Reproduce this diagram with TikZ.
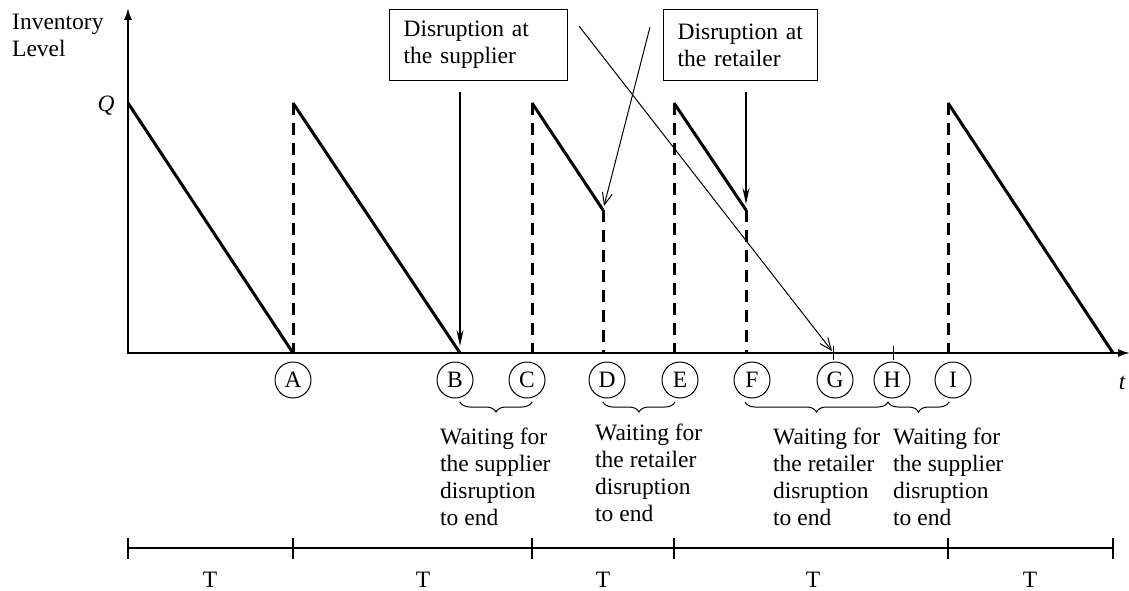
\documentclass[tikz,border=0pt]{standalone}
\usepackage{fontspec}
\setmainfont{Liberation Serif}
\usetikzlibrary{arrows.meta,decorations.pathreplacing}
\begin{document}
\begin{tikzpicture}[x=1pt,y=-1pt,
  every node/.style={font=\fontsize{23.5}{27}\selectfont},
  saw/.style={line width=3pt},
  drop/.style={line width=3pt, dash pattern=on 12pt off 8pt},
  axis/.style={line width=1.8pt},
  lbl/.style={draw, circle, line width=1pt, minimum size=36pt, inner sep=0pt},
  disbox/.style={draw, line width=1.2pt, align=left, inner xsep=14pt, minimum height=71pt, anchor=north west},
  note/.style={align=left, anchor=north west, inner sep=0pt},
  thickarrow/.style={line width=1.6pt, -{Stealth[length=16pt,width=7pt]}},
  thinarrow/.style={line width=1pt, -{Straight Barb[length=12pt,width=10pt]}},
  brc/.style={decorate, decoration={brace, mirror, amplitude=10pt}, line width=1pt},
  tl/.style={line width=1.2pt},
  tick/.style={line width=1pt}
]
\useasboundingbox (0,0) rectangle (1129,591);

% axes
\coordinate (O) at (128,353);
\coordinate (ytop) at (128,8);
\coordinate (xend) at (1130,353);
\draw[axis, {Latex[length=12pt,width=8pt]}-{Latex[length=12pt,width=8pt]}] (ytop) -- (O) -- (xend);
\node[note] (inv) at (12,14) {Inventory\\Level};
\node (q) at (106,106) {\itshape Q};
\node (t) at (1122,383) {\itshape t};

% key points
\coordinate (q0) at (128,103);
\coordinate (A) at (293,353);  \coordinate (Aq) at (293,103);
\coordinate (B) at (460,353);
\coordinate (C) at (532,353);  \coordinate (Cq) at (532,103);
\coordinate (D) at (603,353);  \coordinate (Dm) at (603,210);
\coordinate (E) at (674,353);  \coordinate (Eq) at (674,103);
\coordinate (F) at (746,353);  \coordinate (Fm) at (746,210);
\coordinate (G) at (833,353);
\coordinate (H) at (893,353);
\coordinate (I) at (948,353);  \coordinate (Iq) at (948,103);
\coordinate (Z) at (1113,353);

% inventory curve
\draw[saw] (q0) -- (A);
\draw[drop] (Aq) -- (A);
\draw[saw] (Aq) -- (B);
\draw[drop] (Cq) -- (C);
\draw[saw] (Cq) -- (Dm);
\draw[drop] (Dm) -- (D);
\draw[drop] (Eq) -- (E);
\draw[saw] (Eq) -- (Fm);
\draw[drop] (Fm) -- (F);
\draw[drop] (Iq) -- (I);
\draw[saw] (Iq) -- (Z);

% ticks at G and H
\draw[tick] ([yshift=7pt]G) -- ([yshift=-7pt]G);
\draw[tick] ([yshift=7pt]H) -- ([yshift=-7pt]H);

% circled labels
\node[lbl] (cA) at (293,380) {A};
\node[lbl] (cB) at (455,380) {B};
\node[lbl] (cC) at (527,380) {C};
\node[lbl] (cD) at (607,380) {D};
\node[lbl] (cE) at (680,380) {E};
\node[lbl] (cF) at (752,380) {F};
\node[lbl] (cG) at (835,380) {G};
\node[lbl] (cH) at (892,380) {H};
\node[lbl] (cI) at (953,380) {I};

% braces
\coordinate (b1) at (460,402); \coordinate (b2) at (532,402);
\coordinate (b3) at (603,402); \coordinate (b4) at (675,402);
\coordinate (b5) at (745,402); \coordinate (b6) at (888,402);
\coordinate (b7) at (949,402);
\draw[brc] (b1) -- (b2);
\draw[brc] (b3) -- (b4);
\draw[brc] (b5) -- (b6);
\draw[brc] (b6) -- (b7);

% waiting notes
\node[note] (w1) at (440,428) {Waiting for\\the supplier\\disruption\\to end};
\node[note] (w2) at (595,424) {Waiting for\\the retailer\\disruption\\to end};
\node[note] (w3) at (773,428) {Waiting for\\the retailer\\disruption\\to end};
\node[note] (w4) at (893,428) {Waiting for\\the supplier\\disruption\\to end};

% disruption boxes
\node[disbox, text width=150pt] (sup) at (389,9) {Disruption at\\the supplier};
\node[disbox, text width=126pt] (ret) at (663,9) {Disruption at\\the retailer};

% arrows
\coordinate (s1) at (460,92);  \coordinate (s2) at (460,346);
\coordinate (r1) at (746,92);  \coordinate (r2) at (746,204);
\coordinate (d1) at (650,27);  \coordinate (d2) at (604,206);
\coordinate (g1) at (579,26);  \coordinate (g2) at (832,351);
\draw[thickarrow] (s1) -- (s2);
\draw[thickarrow] (r1) -- (r2);
\draw[thinarrow] (d1) -- (d2);
\draw[thinarrow] (g1) -- (g2);

% period timeline
\coordinate (p0) at (128,548); \coordinate (p1) at (293,548);
\coordinate (p2) at (532,548); \coordinate (p3) at (674,548);
\coordinate (p4) at (948,548); \coordinate (p5) at (1113,548);
\draw[tl] (p0) -- (p5);
\foreach \p in {p0,p1,p2,p3,p4,p5}
  \draw[tl] ([yshift=10pt]\p) -- ([yshift=-11pt]\p);
\node (T1) at (210,580) {T};
\node (T2) at (423,580) {T};
\node (T3) at (603,580) {T};
\node (T4) at (813,580) {T};
\node (T5) at (1030,580) {T};
\end{tikzpicture}
\end{document}
